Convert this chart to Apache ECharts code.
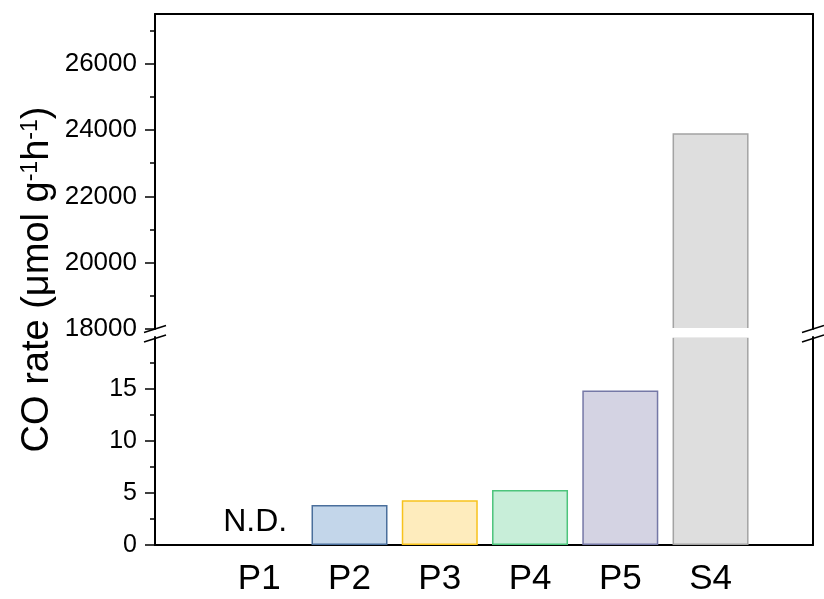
<!DOCTYPE html>
<html>
<head>
<meta charset="utf-8">
<script src="https://cdn.jsdelivr.net/npm/echarts@6/dist/echarts.min.js"></script>
<style>
  html, body { margin: 0; padding: 0; background: #fff; }
  #chart { width: 824px; height: 599px; }
</style>
</head>
<body>
<div id="chart"></div>
<script>
// Samples and their CO evolution rates (µmol g^-1 h^-1); null = not detected
const categories = ['P1', 'P2', 'P3', 'P4', 'P5', 'S4'];
const coRate = [null, 3.85, 4.3, 5.3, 14.85, 23900];

// Tick values for the two segments of the broken y axis
const lowerTicks = [0, 5, 10, 15];
const lowerMinorTicks = [2.5, 7.5, 12.5, 17.5];
const upperTicks = [18000, 20000, 22000, 24000, 26000];
const upperMinorTicks = [19000, 21000, 23000, 25000, 27000];

// Bar fill / outline colours
const fillColors = ['#c3d6ea', '#c3d6ea', '#feecbd', '#c8eed9', '#d4d3e3', '#dedede'];
const borderColors = ['#4a6f9c', '#4a6f9c', '#f7c21d', '#4dc47c', '#7578a6', '#a3a3a3'];

// Layout of the two stacked panels (pixels)
const W = 824, H = 599;
const plotLeft = 155, plotRight = 813;
const upperTop = 14, upperBottom = 329;
const lowerTop = 337, lowerBottom = 545;

const FONT = '"Liberation Sans", Arial, sans-serif';
const BLACK = '#000';

const barData = coRate
  .map((v, i) => v == null ? null : {
    value: [i, v],
    itemStyle: { color: fillColors[i], borderColor: borderColors[i], borderWidth: 1.5 }
  })
  .filter(d => d !== null);

const ndData = coRate
  .map((v, i) => v == null ? [i, 0] : null)
  .filter(d => d !== null);

const xRange = { min: -1.155, max: 6.135 };

function frameY(gridIndex, position) {
  return {
    gridIndex, position, type: 'value',
    axisLine: { show: true, onZero: false, lineStyle: { color: BLACK, width: 2 } },
    axisTick: { show: false }, axisLabel: { show: false }, splitLine: { show: false }
  };
}

function tickedY(gridIndex, min, max, ticks, len, labelSize) {
  return {
    gridIndex, position: 'left', type: 'value', min, max,
    axisLine: { show: !!labelSize, onZero: false, lineStyle: { color: BLACK, width: 2 } },
    axisTick: { show: true, customValues: ticks, length: len, inside: false,
                lineStyle: { color: BLACK, width: 1.5 } },
    axisLabel: labelSize
      ? { show: true, customValues: ticks, formatter: v => String(v),
          fontSize: labelSize, fontFamily: FONT, color: BLACK, margin: 18 }
      : { show: false },
    splitLine: { show: false }
  };
}

// Break marks (double slashes) on both vertical frame lines
function slash(x, y) {
  return {
    type: 'line',
    shape: { x1: x - 11, y1: y + 3.5, x2: x + 11, y2: y - 3.5 },
    style: { stroke: BLACK, lineWidth: 1.5 },
    z: 100
  };
}

const chart = echarts.init(document.getElementById('chart'), null, { renderer: 'canvas' });

chart.setOption({
  backgroundColor: '#fff',
  animation: false,
  grid: [
    { left: plotLeft, right: W - plotRight, top: lowerTop, bottom: H - lowerBottom },
    { left: plotLeft, right: W - plotRight, top: upperTop, bottom: H - upperBottom }
  ],
  xAxis: [
    {
      gridIndex: 0, type: 'value', position: 'bottom', min: xRange.min, max: xRange.max,
      axisLine: { show: true, onZero: false, lineStyle: { color: BLACK, width: 2 } },
      axisTick: { show: false },
      axisLabel: {
        show: true, customValues: categories.map((c, i) => i),
        formatter: v => categories[Math.round(v)],
        fontSize: 35, fontFamily: FONT, color: BLACK, margin: 17
      },
      splitLine: { show: false }
    },
    {
      gridIndex: 1, type: 'value', position: 'top', min: xRange.min, max: xRange.max,
      axisLine: { show: true, onZero: false, lineStyle: { color: BLACK, width: 2 } },
      axisTick: { show: false }, axisLabel: { show: false }, splitLine: { show: false }
    }
  ],
  yAxis: [
    tickedY(0, 0, 20, lowerTicks, 10, 25),
    tickedY(0, 0, 20, lowerMinorTicks, 5, 0),
    frameY(0, 'right'),
    tickedY(1, 18000, 27500, upperTicks, 10, 26),
    tickedY(1, 18000, 27500, upperMinorTicks, 5, 0),
    frameY(1, 'right')
  ],
  series: [
    {
      type: 'bar', xAxisIndex: 0, yAxisIndex: 0, barWidth: 76, clip: true,
      data: barData
    },
    {
      type: 'bar', xAxisIndex: 1, yAxisIndex: 3, barWidth: 76, clip: true,
      data: barData
    },
    {
      // "not detected" marker for samples without a value
      type: 'scatter', xAxisIndex: 0, yAxisIndex: 0, symbol: 'circle', symbolSize: 1,
      itemStyle: { color: 'rgba(0,0,0,0)', opacity: 1 },
      label: {
        show: true, position: 'top', distance: 6, offset: [-4, 0], formatter: 'N.D.',
        fontSize: 32, fontFamily: FONT, color: BLACK, opacity: 1
      },
      data: ndData
    }
  ],
  graphic: [
    {
      type: 'text', x: 38, y: (upperTop + lowerBottom) / 2, rotation: Math.PI / 2,
      style: {
        text: '{a|CO rate (μmol g}{s|-1}{a|h}{s|-1}{a|)}',
        align: 'center', verticalAlign: 'middle', fill: BLACK,
        rich: {
          a: { fontSize: 38, fontFamily: FONT, fill: BLACK, color: BLACK },
          s: { fontSize: 23, fontFamily: FONT, fill: BLACK, color: BLACK, verticalAlign: 'top' }
        }
      }
    },
    // white band separating the two panels at the axis break
    {
      type: 'rect',
      shape: { x: plotLeft + 1.5, y: upperBottom - 1, width: plotRight - plotLeft - 3,
               height: lowerTop - upperBottom + 1.8 },
      style: { fill: '#fff' },
      z: 50
    },
    slash(plotLeft, upperBottom),
    slash(plotLeft, lowerTop + 1.5),
    slash(plotRight, upperBottom),
    slash(plotRight, lowerTop + 1.5)
  ]
});
</script>
</body>
</html>
